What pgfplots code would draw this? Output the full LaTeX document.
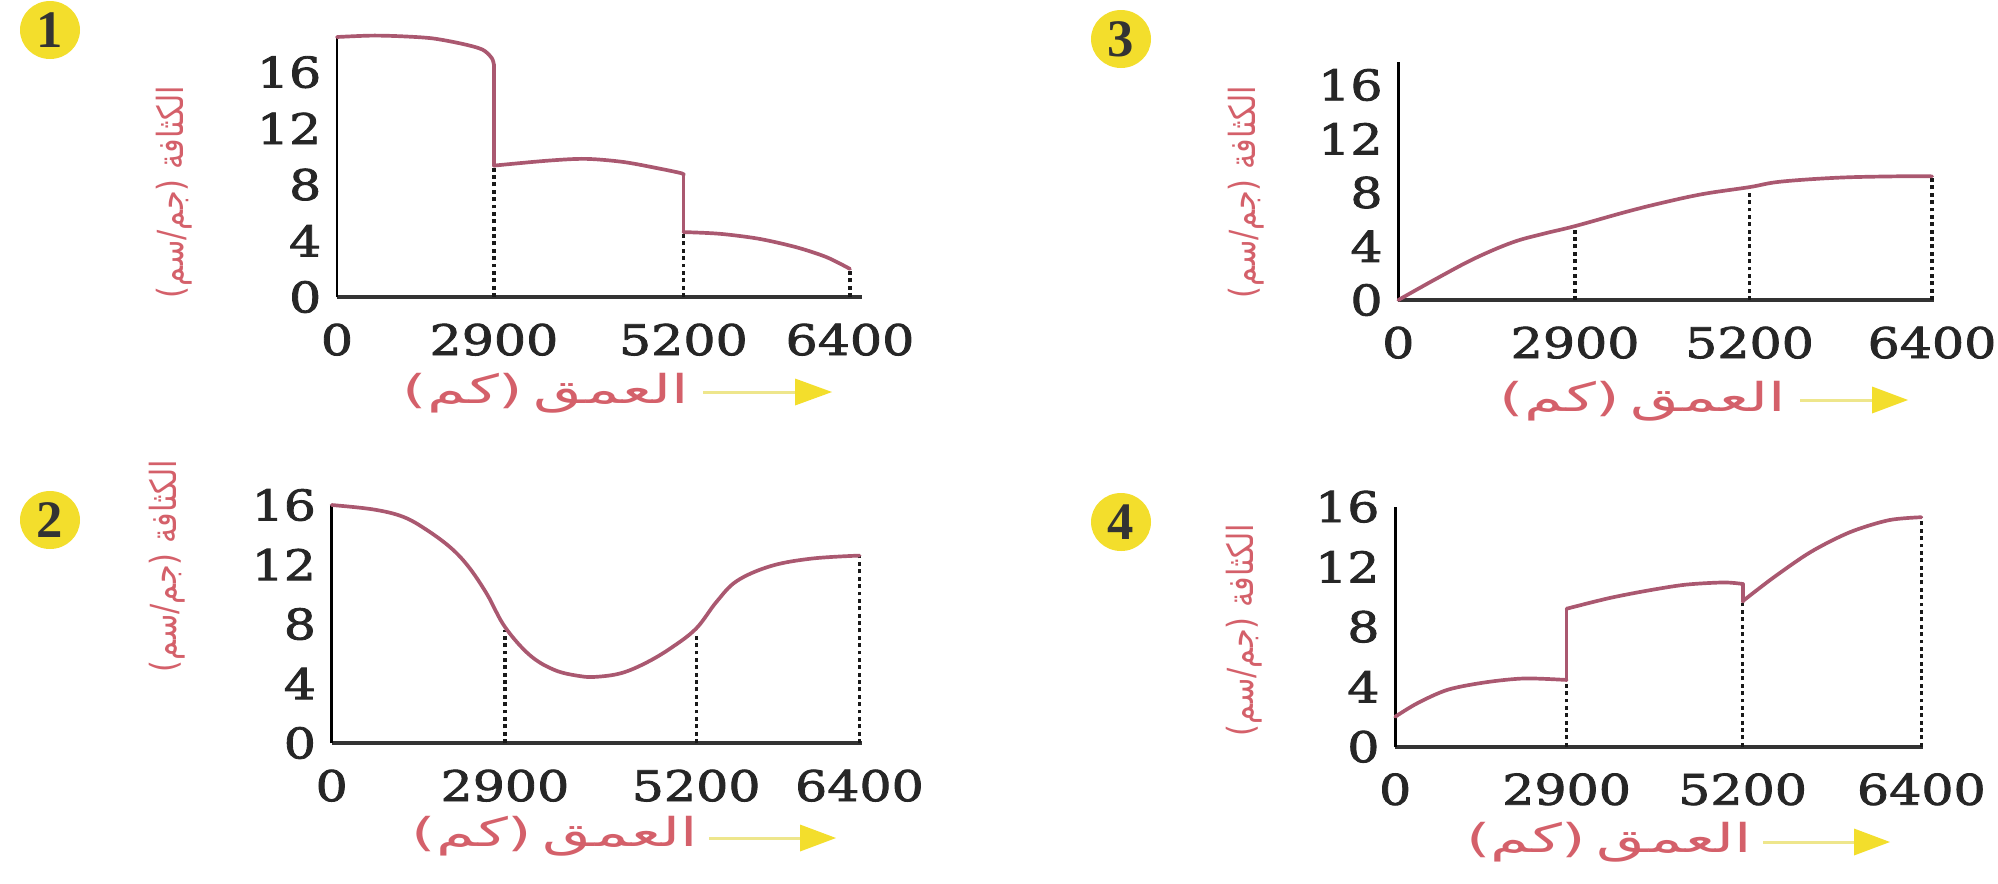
\documentclass[border=0pt]{standalone}
\usepackage{graphicx}
\usepackage{pgfplots}
\pgfplotsset{compat=1.18}
\usepackage{fontspec}
\usetikzlibrary{arrows.meta}
\TeXXeTstate=1
\newfontfamily\tickfont[FakeStretch=1.2, FakeBold=2]{DejaVu Serif}
\newfontfamily\arabicfont[Script=Arabic]{DejaVu Sans}
\newfontfamily\badgefont{Liberation Serif}
\definecolor{curve}{RGB}{170,88,112}
\definecolor{lbl}{RGB}{212,96,106}
\definecolor{ylw}{RGB}{243,222,44}
\definecolor{ylwline}{RGB}{238,230,140}

\pgfplotsset{
  every panel/.style={
    scale only axis, clip=false, anchor=south west,
    axis x line*=bottom, axis y line*=left,
    x axis line style={-, line width=1.15pt, draw=black!80},
    y axis line style={-, line width=0.75pt, draw=black},
    ymin=0, ytick={0,4,8,12,16}, yticklabels={0,4,8,12,16},
    xticklabels={0,2900,5200,6400},
    major tick length=0pt, tick style={draw=none},
    tick label style={font=\tickfont\fontsize{12}{14}\selectfont, text=black!85, inner sep=0pt},
    yticklabel style={xshift=-0.15cm},
    xticklabel style={yshift=-0.26cm},
  },
  depthmap/.style n args={3}{
    x filter/.expression={x<=2900 ? x*#1/2900 : (x<=5200 ? #1+(x-2900)*(#2-#1)/2300 : #2+(x-5200)*(6400-#2)/1200)},
    xmin=0, xmax=#3, xtick={0,#1,#2,6400},
  },
  dens/.style={curve, line width=1.05pt, line join=round, line cap=round},
  drop/.style={black!90, line width=0.95pt, dash pattern=on 1.1pt off 1pt},
}

\begin{document}
\begin{tikzpicture}
\useasboundingbox (0,0) rectangle (19.98,-8.83);

% ---------------- Panel 1 ----------------
\begin{axis}[every panel, depthmap={1958}{4322}{6550},
  at={(3.37cm,-2.97cm)}, width=5.25cm, height=2.60cm, ymax=18.5]
\addplot[drop] coordinates {(2900,0) (2900,9.35)};
\addplot[drop] coordinates {(5200,0) (5200,4.62)};
\addplot[drop] coordinates {(6400,0) (6400,2.0)};
\addplot[dens, smooth, tension=0.5] coordinates {(0,18.5) (640,18.6) (1200,18.55) (1770,18.4) (2330,18.0) (2690,17.6) (2860,17.0) (2900,16.5)};
\addplot[dens] coordinates {(2900,16.5) (2900,9.35)};
\addplot[dens, smooth, tension=0.5] coordinates {(2900,9.35) (3550,9.7) (4015,9.83) (4480,9.6) (4940,9.1) (5180,8.8) (5200,8.7)};
\addplot[dens] coordinates {(5200,8.7) (5200,4.62)};
\addplot[dens, smooth, tension=0.5] coordinates {(5200,4.62) (5460,4.5) (5740,4.15) (6010,3.55) (6230,2.84) (6400,2.0)};
\end{axis}

% ---------------- Panel 2 ----------------
\begin{axis}[every panel, depthmap={2101}{4420}{6427},
  at={(3.317cm,-7.43cm)}, width=5.30cm, height=2.38cm, ymax=16]
\addplot[drop] coordinates {(2900,0) (2900,7.6)};
\addplot[drop] coordinates {(5200,0) (5200,7.4)};
\addplot[drop] coordinates {(6400,0) (6400,12.6)};
\addplot[dens, smooth, tension=0.6] coordinates {(0,16.0) (700,15.7) (1200,15.2) (1600,14.3) (2000,13.1) (2300,11.8) (2600,10.0) (2900,7.8) (3200,5.9) (3500,4.9) (3800,4.5) (4000,4.45) (4300,4.7) (4600,5.4) (4900,6.4) (5200,7.7) (5350,9.5) (5500,10.9) (5750,11.9) (6050,12.4) (6400,12.6)};
\end{axis}

% ---------------- Panel 3 ----------------
\begin{axis}[every panel, depthmap={2120}{4212}{6424},
  at={(13.983cm,-3.00cm)}, width=5.357cm, height=2.383cm, ymax=17.73]
\addplot[drop] coordinates {(2900,0) (2900,5.5)};
\addplot[drop] coordinates {(5200,0) (5200,8.4)};
\addplot[drop] coordinates {(6400,0) (6400,9.2)};
\addplot[dens, smooth, tension=0.6] coordinates {(0,0) (630,1.6) (1255,3.1) (1880,4.3) (2400,4.95) (2900,5.5) (3600,6.6) (4100,7.3) (4600,7.9) (5200,8.4) (5400,8.8) (5780,9.1) (6160,9.2) (6400,9.2)};
\end{axis}

% ---------------- Panel 4 ----------------
\begin{axis}[every panel, depthmap={2085}{4226}{6415},
  at={(13.952cm,-7.467cm)}, width=5.274cm, height=2.40cm, ymax=16]
\addplot[drop] coordinates {(2900,0) (2900,4.45)};
\addplot[drop] coordinates {(5200,0) (5200,9.7)};
\addplot[drop] coordinates {(6400,0) (6400,15.3)};
\addplot[dens, smooth, tension=0.5] coordinates {(0,2.0) (375,2.9) (890,3.8) (1540,4.3) (2190,4.55) (2900,4.45)};
\addplot[dens] coordinates {(2900,4.45) (2900,9.2)};
\addplot[dens, smooth, tension=0.5] coordinates {(2900,9.2) (3450,9.9) (3950,10.4) (4450,10.8) (4950,10.95) (5200,10.85)};
\addplot[dens] coordinates {(5200,10.85) (5200,9.7)};
\addplot[dens, smooth, tension=0.5] coordinates {(5200,9.7) (5410,11.3) (5660,13.0) (5920,14.3) (6180,15.1) (6400,15.3)};
\end{axis}

% ---------------- badges ----------------
\foreach \cx/\cy/\n in {0.50/-0.30/1, 0.50/-5.20/2, 11.21/-0.39/3, 11.21/-5.22/4}{
  \fill[ylw] (\cx,\cy) ellipse [x radius=0.30, y radius=0.29];
  \node[font=\badgefont\bfseries\fontsize{15}{16}\selectfont, text=black!80] at (\cx,\cy) {\n};
}

% ---------------- y labels ----------------
\foreach \lx/\ly in {1.74/-1.92, 1.67/-5.66, 12.46/-1.92, 12.44/-6.30}{
  \node[rotate=90, text=lbl, inner sep=0pt] at (\lx,\ly)
    {\resizebox*{2.12cm}{0.36cm}{\arabicfont\beginR الكثافة (جم/سم)\endR}};
}

% ---------------- x labels and arrows ----------------
\foreach \tx/\ty/\sx/\bx/\px/\ay in {5.46/-3.93/7.03/7.95/8.32/-3.92, 5.55/-8.36/7.09/8.00/8.36/-8.38, 16.43/-4.01/18.00/18.72/19.08/-4.00, 16.09/-8.42/17.63/18.54/18.90/-8.42}{
  \node[text=lbl, inner sep=0pt] at (\tx,\ty)
    {\resizebox*{2.86cm}{0.40cm}{\arabicfont\beginR العمق\,(كم)\endR}};
  \draw[ylwline, line width=0.03cm] (\sx,\ay) -- (\bx,\ay);
  \fill[ylw] (\bx,\ay+0.135) -- (\px,\ay) -- (\bx,\ay-0.135) -- cycle;
}
\end{tikzpicture}
\end{document}
